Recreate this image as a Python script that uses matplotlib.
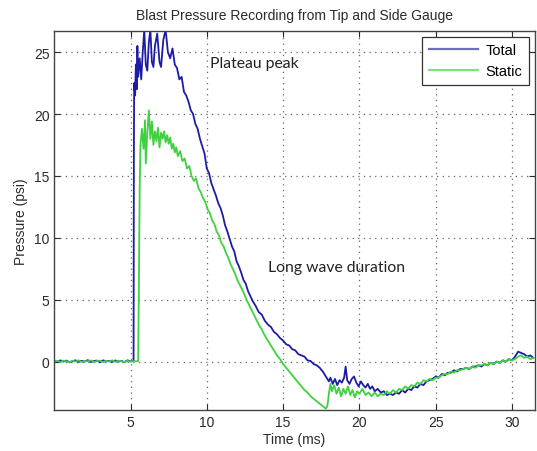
import matplotlib
matplotlib.use("Agg")
import matplotlib.pyplot as plt

# Total pressure (tip gauge): time in ms, pressure in psi
total_t = [0.0, 0.2, 0.4, 0.6, 0.8, 1.0, 1.2, 1.4, 1.6, 1.8, 2.0, 2.2, 2.4, 2.6,
           2.8, 3.0, 3.2, 3.4, 3.6, 3.8, 4.0, 4.2, 4.4, 4.6, 4.8, 5.0, 5.2,
           5.22, 5.24, 5.3, 5.35, 5.4, 5.45, 5.5, 5.6, 5.7, 5.8, 5.9, 6.0, 6.1,
           6.2, 6.3, 6.4, 6.5, 6.6, 6.75, 6.9, 7.0, 7.15, 7.3, 7.45, 7.6, 7.75,
           7.9, 8.05, 8.2, 8.35, 8.5, 8.65, 8.8, 8.95, 9.1, 9.25, 9.4, 9.55,
           9.7, 9.85, 10.0, 10.15, 10.3, 10.45, 10.6, 10.75, 10.9, 11.05, 11.2,
           11.35, 11.5, 11.65, 11.8, 11.95, 12.1, 12.25, 12.4, 12.55, 12.7,
           12.85, 13.0, 13.2, 13.4, 13.6, 13.8, 14.0, 14.2, 14.4, 14.6, 14.8,
           15.0, 15.2, 15.4, 15.6, 15.8, 16.0, 16.2, 16.4, 16.6, 16.8, 17.0,
           17.2, 17.4, 17.6, 17.8, 18.0, 18.1, 18.25, 18.4, 18.55, 18.7, 18.85,
           19.0, 19.1, 19.2, 19.35, 19.5, 19.65, 19.8, 19.95, 20.1, 20.25,
           20.4, 20.55, 20.7, 20.85, 21.0, 21.2, 21.4, 21.6, 21.8, 22.0, 22.2,
           22.4, 22.6, 22.8, 23.0, 23.2, 23.4, 23.6, 23.8, 24.0, 24.2, 24.4,
           24.6, 24.8, 25.0, 25.2, 25.4, 25.6, 25.8, 26.0, 26.2, 26.4, 26.6,
           26.8, 27.0, 27.2, 27.4, 27.6, 27.8, 28.0, 28.2, 28.4, 28.6, 28.8,
           29.0, 29.2, 29.4, 29.6, 29.8, 30.0, 30.2, 30.4, 30.6, 30.8, 31.0,
           31.2, 31.4]
total_p = [0.05, -0.05, 0.1, 0.0, 0.08, -0.06, 0.04, 0.1, -0.02, 0.06, 0.0,
           0.12, -0.04, 0.05, 0.08, -0.05, 0.1, 0.02, 0.06, -0.03, 0.09, 0.0,
           0.05, -0.04, 0.1, 0.02, 0.05,
           17.0, 22.5, 21.5, 24.0, 22.0, 25.5, 23.0, 24.5, 22.8, 25.0, 26.8,
           24.0, 23.5, 25.8, 26.8, 24.2, 23.8, 25.5, 26.5, 24.2, 23.8, 26.0,
           26.8, 25.0, 24.5, 25.3, 24.0, 23.7, 22.8, 23.0, 21.8, 21.5, 21.0,
           20.3, 20.0, 19.2, 18.8, 18.0, 17.4, 16.8, 15.6, 15.2, 14.4, 13.9,
           13.4, 12.8, 12.4, 11.8, 11.0, 10.5, 9.9, 9.3, 8.9, 8.1, 7.7, 7.2,
           6.6, 6.3, 5.7, 5.3, 4.9, 4.5, 4.0, 3.8, 3.3, 3.0, 2.8, 2.4, 2.2,
           1.9, 1.7, 1.4, 1.3, 1.0, 0.9, 0.6, 0.5, 0.4, 0.1, 0.05, -0.2, -0.3,
           -0.5, -0.8, -1.2, -1.6, -1.3, -1.8, -1.4, -1.9, -1.5, -1.7, -1.3,
           -0.4, -1.5, -1.8, -1.4, -1.2, -1.7, -2.0, -1.6, -1.9, -2.1, -1.8,
           -2.2, -2.0, -2.4, -2.2, -2.5, -2.4, -2.7, -2.6, -2.7, -2.5, -2.6,
           -2.3, -2.5, -2.2, -2.3, -2.0, -2.1, -1.8, -1.9, -1.6, -1.5, -1.4,
           -1.2, -1.3, -1.0, -1.1, -0.9, -0.9, -0.7, -0.8, -0.6, -0.6, -0.5,
           -0.6, -0.4, -0.4, -0.3, -0.4, -0.2, -0.3, -0.1, -0.2, 0.0, -0.1,
           0.1, 0.0, 0.2, 0.1, 0.4, 0.8, 0.7, 0.6, 0.4, 0.5, 0.3]

# Static pressure (side gauge)
static_t = [0.0, 0.2, 0.4, 0.6, 0.8, 1.0, 1.2, 1.4, 1.6, 1.8, 2.0, 2.2, 2.4,
            2.6, 2.8, 3.0, 3.2, 3.4, 3.6, 3.8, 4.0, 4.2, 4.4, 4.6, 4.8, 5.0,
            5.2, 5.4, 5.5, 5.55, 5.6, 5.65, 5.75, 5.85, 5.95, 6.0, 6.1, 6.2,
            6.3, 6.4, 6.5, 6.6, 6.7, 6.8, 6.9, 7.0, 7.1, 7.2, 7.3, 7.4, 7.5,
            7.6, 7.7, 7.8, 7.9, 8.0, 8.1, 8.25, 8.4, 8.55, 8.7, 8.85, 9.0,
            9.15, 9.3, 9.45, 9.6, 9.75, 9.9, 10.05, 10.2, 10.35, 10.5, 10.65,
            10.8, 10.95, 11.1, 11.25, 11.4, 11.55, 11.7, 11.85, 12.0, 12.2,
            12.4, 12.6, 12.8, 13.0, 13.2, 13.4, 13.6, 13.8, 14.0, 14.2, 14.4,
            14.6, 14.8, 15.0, 15.2, 15.4, 15.6, 15.8, 16.0, 16.2, 16.4, 16.6,
            16.8, 17.0, 17.2, 17.4, 17.6, 17.8, 17.9, 18.0, 18.1, 18.2, 18.35,
            18.5, 18.65, 18.8, 18.95, 19.1, 19.25, 19.4, 19.55, 19.7, 19.85,
            20.0, 20.2, 20.4, 20.6, 20.8, 21.0, 21.2, 21.4, 21.6, 21.8, 22.0,
            22.2, 22.4, 22.6, 22.8, 23.0, 23.2, 23.4, 23.6, 23.8, 24.0, 24.2,
            24.4, 24.6, 24.8, 25.0, 25.2, 25.4, 25.6, 25.8, 26.0, 26.2, 26.4,
            26.6, 26.8, 27.0, 27.2, 27.4, 27.6, 27.8, 28.0, 28.2, 28.4, 28.6,
            28.8, 29.0, 29.2, 29.4, 29.6, 29.8, 30.0, 30.2, 30.4, 30.6, 30.8,
            31.0, 31.2, 31.4]
static_p = [0.0, 0.06, -0.04, 0.08, 0.02, -0.05, 0.07, 0.0, 0.1, -0.03, 0.05,
            0.02, 0.09, -0.02, 0.04, 0.08, -0.04, 0.06, 0.0, 0.1, -0.02, 0.07,
            0.03, -0.05, 0.06, 0.0, 0.04, 0.02, 0.05,
            6.5, 14.0, 17.5, 18.8, 17.2, 19.5, 16.0, 18.5, 20.3, 18.0, 19.4,
            17.5, 18.6, 17.8, 18.9, 17.3, 18.5, 18.0, 18.6, 17.7, 18.3, 17.6,
            18.1, 17.2, 17.6, 16.9, 17.3, 16.6, 17.0, 16.2, 16.4, 15.6, 15.8,
            15.0, 14.6, 14.8, 14.0, 13.7, 13.2, 12.9, 12.3, 12.0, 11.4, 11.1,
            10.5, 10.2, 9.6, 9.3, 8.8, 8.4, 7.9, 7.5, 7.1, 6.6, 6.1, 5.6, 5.0,
            4.5, 4.0, 3.5, 3.0, 2.6, 2.1, 1.7, 1.3, 0.9, 0.5, 0.2, -0.2, -0.5,
            -0.8, -1.1, -1.4, -1.7, -2.0, -2.3, -2.5, -2.8, -3.0, -3.2, -3.4,
            -3.6, -3.8, -3.6, -2.6, -1.8, -2.4, -1.9, -2.6, -2.1, -2.8, -2.2,
            -2.6, -2.0, -2.7, -2.3, -2.9, -2.4, -2.6, -2.2, -2.7, -2.5, -2.8,
            -2.5, -2.8, -2.6, -2.7, -2.4, -2.6, -2.3, -2.5, -2.2, -2.3, -2.0,
            -2.2, -1.9, -2.0, -1.7, -1.8, -1.5, -1.6, -1.4, -1.5, -1.3, -1.3,
            -1.1, -1.0, -1.0, -0.8, -0.9, -0.7, -0.7, -0.6, -0.5, -0.6, -0.4,
            -0.5, -0.3, -0.3, -0.2, -0.3, -0.1, -0.2, 0.0, -0.1, 0.1, 0.0, 0.2,
            0.1, 0.2, 0.4, 0.5, 0.3, 0.4, 0.2, 0.3]

x_ticks = [5, 10, 15, 20, 25, 30]
y_ticks = [0, 5, 10, 15, 20, 25]
series_names = ["Total", "Static"]

plt.rcParams["font.family"] = ["Liberation Sans", "DejaVu Sans"]
text_col = "#2b2b2b"

fig = plt.figure(figsize=(5.37, 4.52), dpi=100)
ax = fig.add_axes([0.101, 0.091, 0.895, 0.838])

ax.plot(total_t, total_p, color="#1c1ca6", lw=1.3, label=series_names[0])
ax.plot(static_t, static_p, color="#3fd13f", lw=1.3, label=series_names[1])

ax.set_xlim(0, 31.5)
ax.set_ylim(-3.9, 26.7)
ax.set_xticks(x_ticks)
ax.set_yticks(y_ticks)
ax.grid(True, linestyle=(0, (1, 3.5)), color="#666666", linewidth=0.9)
ax.tick_params(direction="in", top=True, right=True, length=4,
               labelsize=10, colors=text_col, labelcolor=text_col)
for s in ax.spines.values():
    s.set_color("#444444")
    s.set_linewidth(1.0)

ax.set_xlabel("Time (ms)", fontsize=10, color=text_col, labelpad=2)
ax.set_ylabel("Pressure (psi)", fontsize=10, color=text_col, labelpad=4)
ax.set_title("Blast Pressure Recording from Tip and Side Gauge",
             fontsize=10, color=text_col, pad=9)

ax.text(10.2, 23.8, "Plateau peak", fontsize=11.3, family="Lato", color="#222222")
ax.text(14.0, 7.3, "Long wave duration", fontsize=11.3, family="Lato", color="#222222")

leg = ax.legend(loc="upper right", fontsize=10.5, fancybox=False, framealpha=1,
                edgecolor="#333333", borderaxespad=0.4, handlelength=3.4,
                labelspacing=0.45, borderpad=0.45, handletextpad=0.5)
leg.get_frame().set_linewidth(0.9)
for line in leg.get_lines():
    line.set_alpha(0.65)
    line.set_linewidth(1.6)

fig.savefig("out.png", dpi=100)
